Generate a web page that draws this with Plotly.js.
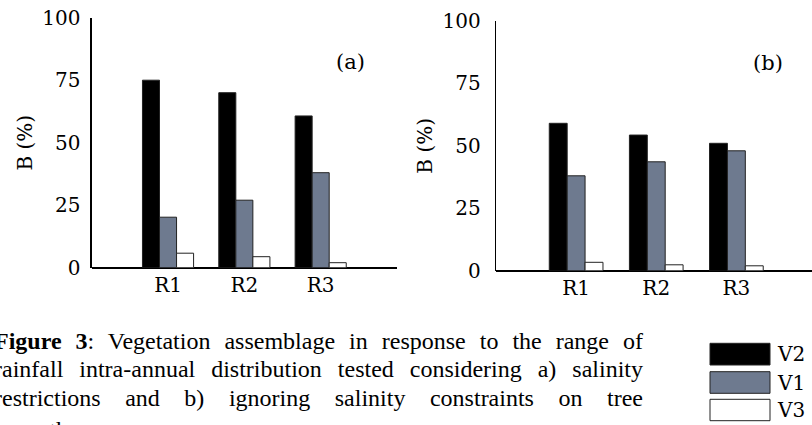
<!DOCTYPE html>
<html>
<head>
<meta charset="utf-8">
<script src="https://cdn.plot.ly/plotly-3.0.1.min.js"></script>
<style>
html, body { margin:0; padding:0; width:812px; height:425px; overflow:hidden; background:#fff; }
#wrap { position:relative; width:812px; height:425px; overflow:hidden; }
#chart { position:absolute; left:0; top:0; width:830px; height:425px; }
#caption { position:absolute; left:-6px; top:327px; width:649px; font-family:"Liberation Serif", serif; font-size:24px; line-height:28.3px; color:#000; }
#caption .j { text-align:justify; text-align-last:justify; white-space:nowrap; }
#caption .l { text-align:left; white-space:nowrap; margin-top:4px; padding-left:6px; }
</style>
</head>
<body>
<div id="wrap">
<div id="chart"></div>
<div id="caption">
<div class="j"><b>Figure 3</b>: Vegetation assemblage in response to the range of</div>
<div class="j">rainfall intra-annual distribution tested considering a) salinity</div>
<div class="j">restrictions and b) ignoring salinity constraints on tree</div>
<div class="l">growth.</div>
</div>
</div>
<script>
const categories = ["R1", "R2", "R3"];
const seriesNames = ["V2", "V1", "V3"];
// Panel (a): considering salinity restrictions
const V2_a = [75, 70, 60.7];
const V1_a = [20.2, 27, 38];
const V3_a = [5.8, 4.4, 2];
// Panel (b): ignoring salinity constraints
const V2_b = [59, 54.3, 51];
const V1_b = [38, 43.6, 48];
const V3_b = [3.4, 2.4, 2];
const yTicks = [0, 25, 50, 75, 100];

const colors = {V2: "#000000", V1: "#6e7a8f", V3: "#ffffff"};
const W = 830, H = 425;
const px = v => v / W;
const py = v => (H - v) / H;
const font = "DejaVu Serif, serif";

function bar(name, x, y, xa, ya) {
  return {type: "bar", name: name, x: x, y: y, xaxis: xa, yaxis: ya,
    marker: {color: colors[name], line: {color: "#222", width: 1}},
    showlegend: false, hoverinfo: "skip"};
}

const data = [
  bar("V2", categories, V2_a, "x", "y"),
  bar("V1", categories, V1_a, "x", "y"),
  bar("V3", categories, V3_a, "x", "y"),
  bar("V2", categories, V2_b, "x2", "y2"),
  bar("V1", categories, V1_b, "x2", "y2"),
  bar("V3", categories, V3_b, "x2", "y2")
];

function xAxis(dom, posPx) {
  return {domain: dom, anchor: "free", position: py(posPx), type: "category", categoryarray: categories,
    range: [-1, 3], showline: false, ticks: "",
    showgrid: false, zeroline: false, fixedrange: true,
    tickfont: {family: font, size: 20, color: "#000"}};
}
function yAxis(dom, anchor, title, standoff) {
  return {domain: dom, anchor: anchor, range: [0, 100], tickvals: yTicks,
    showline: true, linecolor: "#000", linewidth: 1.3, ticks: "",
    showgrid: false, zeroline: true, zerolinecolor: "#000", zerolinewidth: 2, fixedrange: true,
    tickfont: {family: font, size: 20, color: "#000"}, ticklabelstandoff: standoff,
    title: {text: title, font: {family: font, size: 20, color: "#000"}, standoff: 4}};
}
function xTop(dom, over, anchorY) {
  return {domain: dom, overlaying: over, anchor: anchorY, side: "top", type: "linear",
    range: [0, 4], tickvals: [1, 2, 3], ticks: "inside", ticklen: 3, tickcolor: "#000",
    showticklabels: false, showline: true, linecolor: "#000", linewidth: 1.3,
    showgrid: false, zeroline: false, fixedrange: true};
}
function yRight(dom, over, anchorX) {
  return {domain: dom, overlaying: over, anchor: anchorX, side: "right",
    range: [0, 100], tickvals: [25, 50, 75], ticks: "inside", ticklen: 3, tickcolor: "#000",
    showticklabels: false, showline: true, linecolor: "#000", linewidth: 1.3,
    showgrid: false, zeroline: false, fixedrange: true};
}

const dxA = [px(91.7), px(397)], dyA = [py(267.7), py(17.7)];
const dxB = [px(496), px(816.5)], dyB = [py(270.8), py(20.8)];

const legendBoxes = [[343.3, 365], [371.7, 393.3], [399.3, 420.7]];
const shapes = seriesNames.map((n, i) => ({
  type: "rect", xref: "paper", yref: "paper",
  x0: px(710), x1: px(770), y0: py(legendBoxes[i][1]), y1: py(legendBoxes[i][0]),
  fillcolor: colors[n], line: {color: "#222", width: 1}
}));
const annotations = seriesNames.map((n, i) => ({
  xref: "paper", yref: "paper", x: px(775), y: py((legendBoxes[i][0] + legendBoxes[i][1]) / 2),
  xanchor: "left", yanchor: "middle", text: n, showarrow: false,
  font: {family: font, size: 20, color: "#000"}
}));
annotations.push({xref: "paper", yref: "paper", x: px(350), y: py(61.7), text: "(a)",
  showarrow: false, xanchor: "center", yanchor: "middle", font: {family: font, size: 21, color: "#000"}});
annotations.push({xref: "paper", yref: "paper", x: px(768), y: py(63.3), text: "(b)",
  showarrow: false, xanchor: "center", yanchor: "middle", font: {family: font, size: 21, color: "#000"}});

const layout = {
  width: W, height: H, margin: {l: 0, r: 0, t: 0, b: 0},
  paper_bgcolor: "#fff", plot_bgcolor: "rgba(0,0,0,0)",
  barmode: "group", bargap: 0.33, bargroupgap: 0, showlegend: false,
  xaxis: xAxis(dxA, 270.7), yaxis: yAxis(dyA, "x", "B (%)", 6),
  xaxis2: xAxis(dxB, 273.8), yaxis2: yAxis(dyB, "x2", "B (%)", 10),
  xaxis3: xTop(dxA, "x", "y"), yaxis3: yRight(dyA, "y", "x"),
  xaxis4: xTop(dxB, "x2", "y2"), yaxis4: yRight(dyB, "y2", "x2"),
  shapes: shapes, annotations: annotations
};

Plotly.newPlot("chart", data, layout, {staticPlot: true, displayModeBar: false});
</script>
</body>
</html>
